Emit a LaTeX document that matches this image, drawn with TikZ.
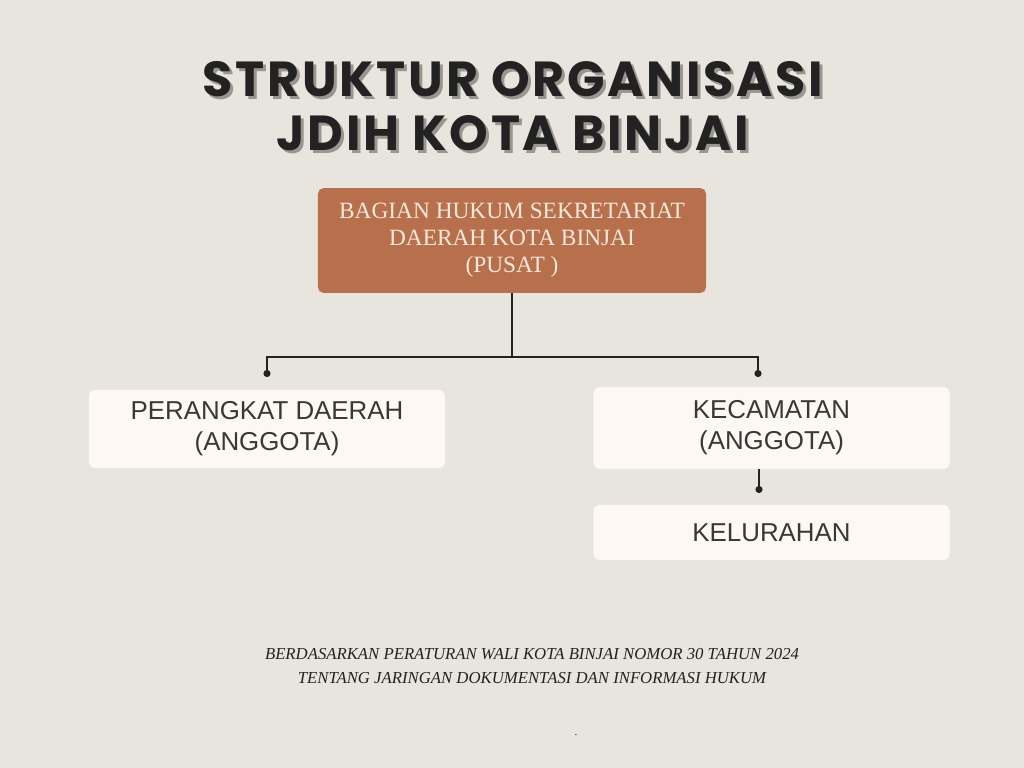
\documentclass[tikz,border=0pt]{standalone}
\usepackage{fontspec}
\setmainfont{Liberation Serif}
\newfontfamily\titlefont{Poppins}[LetterSpace=5.5]
\newfontfamily\boxfont{Liberation Sans}
\usepackage{xcolor}
\definecolor{paper}{HTML}{E8E4DE}
\definecolor{rust}{HTML}{B8704C}
\definecolor{cream}{HTML}{FDF8F1}
\definecolor{ink}{HTML}{222222}
\definecolor{shade}{HTML}{9A968F}
\definecolor{pale}{HTML}{F7E9DC}
\usetikzlibrary{arrows.meta}
\tikzset{
    heading/.style = {
      font = \titlefont\bfseries\fontsize{35}{38}\selectfont,
      align = center,
      text = ink,
    },
    boss/.style = {
      rounded corners = 4pt,
      fill = rust,
      text = pale,
      minimum width = 9.7cm,
      minimum height = 2.62cm,
      align = center,
      font = \fontsize{16.6}{19.3}\selectfont,
    },
    member/.style = {
      rounded corners = 4pt,
      fill = cream,
      text = ink!90,
      minimum width = 8.9cm,
      align = center,
      font = \boxfont\fontsize{18.4}{22}\selectfont,
    },
    link/.style = {
      draw = ink,
      line width = 1.3pt,
    },
    -o/.style = {
      link,
      -{Circle[length=5pt]},
    },
}

\begin{document}
\begin{tikzpicture}[x=0.025cm, y=-0.025cm]
    \fill[paper] (0,0) rectangle (1024,768);
    \useasboundingbox (0,0) rectangle (1024,768);

    % title with its shadow
    \node[heading, text = shade] (TITLESHADOW) at (516,109) {STRUKTUR ORGANISASI\\JDIH KOTA BINJAI};
    \node[heading] (TITLE) at (513,106) {STRUKTUR ORGANISASI\\JDIH KOTA BINJAI};

    \node[boss] (PUSAT) at (512,240.5) {BAGIAN HUKUM SEKRETARIAT\\DAERAH KOTA BINJAI\\(PUSAT )};

    \node[member, minimum height = 1.95cm] (PD) at (267,429) {PERANGKAT DAERAH\\(ANGGOTA)};
    \node[member, minimum height = 2.05cm] (KEC) at (771.5,428) {KECAMATAN\\(ANGGOTA)};
    \node[member, minimum height = 1.38cm] (KEL) at (771.5,532.5) {KELURAHAN};

    \coordinate (BAR) at (512,357);
    \coordinate (DOTPD) at (267,377);
    \coordinate (DOTKEC) at (758,377);
    \coordinate (DOTKEL) at (759,493);

    \draw[link] (PUSAT.south) -- (BAR);
    \draw[-o] (BAR) -| (DOTPD);
    \draw[-o] (BAR) -| (DOTKEC);
    \draw[-o] (KEC.south -| DOTKEL) -- (DOTKEL);

    % legal basis
    \node[font = \itshape\fontsize{11.9}{17.7}\selectfont, text = ink, align = center] (DASAR) at (532,666)
      {BERDASARKAN PERATURAN WALI KOTA BINJAI NOMOR 30 TAHUN 2024\\TENTANG JARINGAN DOKUMENTASI DAN INFORMASI HUKUM};
    \node[font = \fontsize{8}{8}\selectfont, text = ink, inner sep = 0pt] (DOT) at (576,735) {.};
\end{tikzpicture}
\end{document}
